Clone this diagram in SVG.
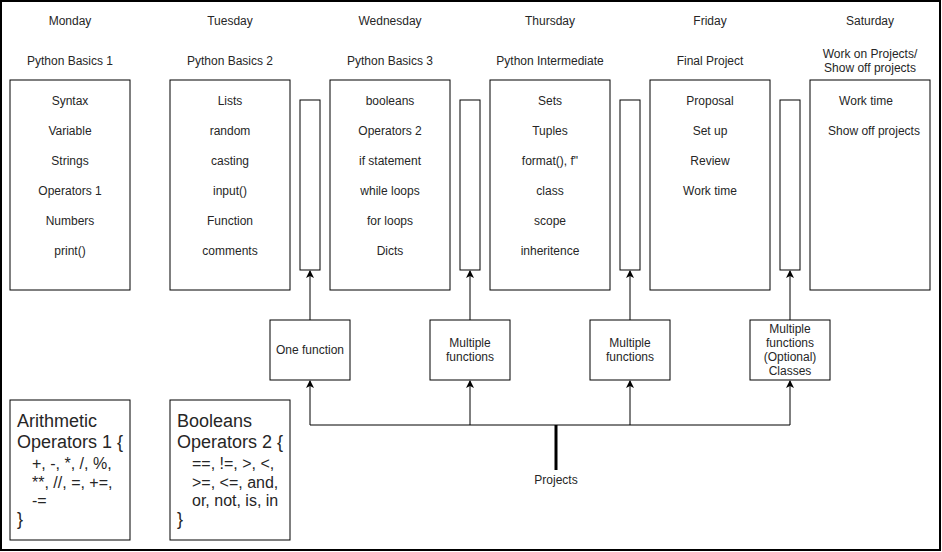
<svg xmlns="http://www.w3.org/2000/svg" width="942" height="552" viewBox="0 0 942 552">
<defs>
<marker id="arr" markerWidth="8" markerHeight="8" viewBox="0 0 8 8" refX="7" refY="4" orient="auto" markerUnits="userSpaceOnUse">
<path d="M0,0 L8,4 L0,8 L2,4 Z" fill="#000"/>
</marker>
</defs>
<style>
.box{fill:#fff;stroke:#000;stroke-width:1}
.t{font-family:"Liberation Sans",Arial,sans-serif;font-size:12px;fill:#262626;text-anchor:middle}
.big{font-family:"Liberation Sans",Arial,sans-serif;font-size:18px;fill:#262626}
.mid{font-family:"Liberation Sans",Arial,sans-serif;font-size:16px;fill:#262626}
.edge{fill:none;stroke:#000;stroke-width:1}
</style>
<rect x="1" y="1" width="939" height="549" fill="#fff" stroke="#000" stroke-width="2"/>
<g id="headers">
<text class="t" x="70" y="25">Monday</text>
<text class="t" x="230" y="25">Tuesday</text>
<text class="t" x="390" y="25">Wednesday</text>
<text class="t" x="550" y="25">Thursday</text>
<text class="t" x="710" y="25">Friday</text>
<text class="t" x="870" y="25">Saturday</text>
<text class="t" x="70" y="65">Python Basics 1</text>
<text class="t" x="230" y="65">Python Basics 2</text>
<text class="t" x="390" y="65">Python Basics 3</text>
<text class="t" x="550" y="65">Python Intermediate</text>
<text class="t" x="710" y="65">Final Project</text>
<text class="t" x="870" y="58">Work on Projects/</text>
<text class="t" x="870" y="72">Show off projects</text>
</g>
<g id="monday">
<rect class="box" x="10" y="80" width="120" height="210"/>
<text class="t" x="70" y="105">Syntax</text>
<text class="t" x="70" y="135">Variable</text>
<text class="t" x="70" y="165">Strings</text>
<text class="t" x="70" y="195">Operators 1</text>
<text class="t" x="70" y="225">Numbers</text>
<text class="t" x="70" y="255">print()</text>
</g>
<g id="tuesday">
<rect class="box" x="170" y="80" width="120" height="210"/>
<text class="t" x="230" y="105">Lists</text>
<text class="t" x="230" y="135">random</text>
<text class="t" x="230" y="165">casting</text>
<text class="t" x="230" y="195">input()</text>
<text class="t" x="230" y="225">Function</text>
<text class="t" x="230" y="255">comments</text>
</g>
<g id="wednesday">
<rect class="box" x="330" y="80" width="120" height="210"/>
<text class="t" x="390" y="105">booleans</text>
<text class="t" x="390" y="135">Operators 2</text>
<text class="t" x="390" y="165">if statement</text>
<text class="t" x="390" y="195">while loops</text>
<text class="t" x="390" y="225">for loops</text>
<text class="t" x="390" y="255">Dicts</text>
</g>
<g id="thursday">
<rect class="box" x="490" y="80" width="120" height="210"/>
<text class="t" x="550" y="105">Sets</text>
<text class="t" x="550" y="135">Tuples</text>
<text class="t" x="550" y="165">format(), f"</text>
<text class="t" x="550" y="195">class</text>
<text class="t" x="550" y="225">scope</text>
<text class="t" x="550" y="255">inheritence</text>
</g>
<g id="friday">
<rect class="box" x="650" y="80" width="120" height="210"/>
<text class="t" x="710" y="105">Proposal</text>
<text class="t" x="710" y="135">Set up</text>
<text class="t" x="710" y="165">Review</text>
<text class="t" x="710" y="195">Work time</text>
</g>
<g id="saturday">
<rect class="box" x="810" y="80" width="120" height="210"/>
<text class="t" x="866" y="105">Work time</text>
<text class="t" x="874" y="135">Show off projects</text>
</g>
<g id="bar1"><rect class="box" x="300" y="100" width="20" height="170"/></g>
<g id="bar2"><rect class="box" x="460" y="100" width="20" height="170"/></g>
<g id="bar3"><rect class="box" x="620" y="100" width="20" height="170"/></g>
<g id="bar4"><rect class="box" x="780" y="100" width="20" height="170"/></g>
<g id="func1">
<rect class="box" x="270" y="320" width="80" height="60"/>
<text class="t" x="310" y="354">One function</text>
</g>
<g id="func2">
<rect class="box" x="430" y="320" width="80" height="60"/>
<text class="t" x="470" y="347">Multiple</text>
<text class="t" x="470" y="361">functions</text>
</g>
<g id="func3">
<rect class="box" x="590" y="320" width="80" height="60"/>
<text class="t" x="630" y="347">Multiple</text>
<text class="t" x="630" y="361">functions</text>
</g>
<g id="func4">
<rect class="box" x="750" y="320" width="80" height="60"/>
<text class="t" x="790" y="333">Multiple</text>
<text class="t" x="790" y="347">functions</text>
<text class="t" x="790" y="361">(Optional)</text>
<text class="t" x="790" y="375">Classes</text>
</g>
<g id="arith">
<rect class="box" x="10" y="400" width="120" height="140"/>
<text class="big" x="17" y="427">Arithmetic</text>
<text class="big" x="17" y="448">Operators 1 {</text>
<text class="mid" x="32" y="469">+, -, *, /, %,</text>
<text class="mid" x="32" y="488">**, //, =, +=,</text>
<text class="mid" x="32" y="506">-=</text>
<text class="big" x="17" y="525">}</text>
</g>
<g id="bools">
<rect class="box" x="170" y="400" width="120" height="140"/>
<text class="big" x="177" y="427">Booleans</text>
<text class="big" x="177" y="448">Operators 2 {</text>
<text class="mid" x="192" y="469">==, !=, &gt;, &lt;,</text>
<text class="mid" x="192" y="488">&gt;=, &lt;=, and,</text>
<text class="mid" x="192" y="506">or, not, is, in</text>
<text class="big" x="177" y="525">}</text>
</g>
<g id="projects">
<text class="t" x="556" y="484">Projects</text>
</g>
<g id="connectors">
<line class="edge" x1="310" y1="320" x2="310" y2="271" marker-end="url(#arr)"/>
<line class="edge" x1="470" y1="320" x2="470" y2="271" marker-end="url(#arr)"/>
<line class="edge" x1="630" y1="320" x2="630" y2="271" marker-end="url(#arr)"/>
<line class="edge" x1="790" y1="320" x2="790" y2="271" marker-end="url(#arr)"/>
<line class="edge" x1="310" y1="425" x2="310" y2="381" marker-end="url(#arr)"/>
<line class="edge" x1="470" y1="425" x2="470" y2="381" marker-end="url(#arr)"/>
<line class="edge" x1="630" y1="425" x2="630" y2="381" marker-end="url(#arr)"/>
<line class="edge" x1="790" y1="425" x2="790" y2="381" marker-end="url(#arr)"/>
<line class="edge" x1="310" y1="425" x2="790" y2="425"/>
<line x1="556" y1="425" x2="556" y2="470" stroke="#000" stroke-width="3"/>
</g>
</svg>
